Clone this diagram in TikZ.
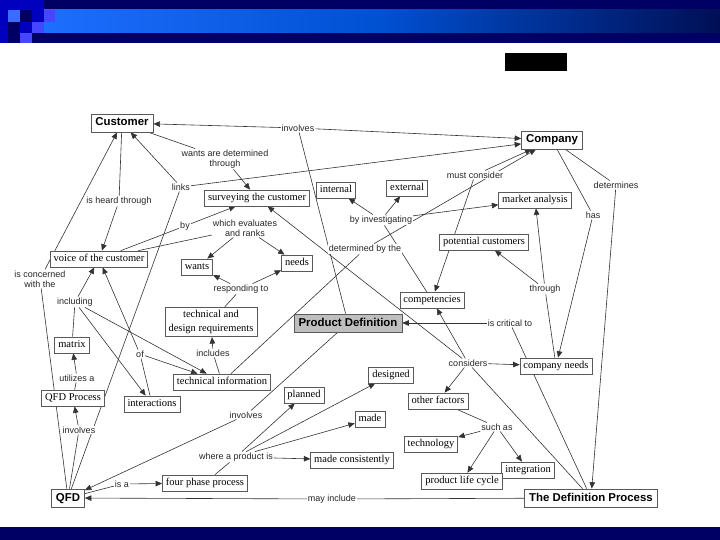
\documentclass[tikz,border=0pt]{standalone}
\usepackage{fontspec}
\setmainfont{Liberation Serif}
\setsansfont{Liberation Sans}
\usetikzlibrary{arrows.meta,backgrounds}
\definecolor{navy}{RGB}{0,0,100}
\definecolor{bandL}{RGB}{30,110,255}
\definecolor{bandM}{RGB}{0,80,210}
\definecolor{bandR}{RGB}{0,15,85}
\definecolor{sqA}{RGB}{58,108,255}
\definecolor{sqB}{RGB}{0,0,190}
\definecolor{sqC}{RGB}{70,70,255}
\begin{document}
\begin{tikzpicture}[x=1pt,y=-1pt,
  concept/.style={draw=black!65, line width=0.7pt, fill=white, font=\fontsize{10.5}{14}\selectfont, inner xsep=3.5pt, inner ysep=3pt, text height=7.5pt, text depth=2.5pt},
  concept2/.style={draw=black!65, line width=0.7pt, fill=white, font=\fontsize{10.5}{14}\selectfont, inner xsep=3.5pt, inner ysep=3pt, align=center},
  bigc/.style={concept, font=\sffamily\bfseries\fontsize{11.4}{13}\selectfont, text height=8.5pt, text depth=2.5pt, inner xsep=4.5pt, inner ysep=3.5pt},
  lp/.style={fill=white, font=\sffamily\fontsize{9}{10}\selectfont, inner sep=1pt, align=center, text=black!85},
  ln/.style={draw=black!80, line width=0.6pt},
  ar/.style={ln, -{Triangle[length=6.5pt,width=5.5pt]}}]
\useasboundingbox (0,0) rectangle (720,540);
% header and footer
\fill[navy] (0,0) rectangle (720,43);
\shade[left color=bandL, right color=bandR, middle color=bandM] (44,10) rectangle (720,33);
\fill[sqB] (0,0) rectangle (8,43);
\fill[sqB] (8,0) rectangle (44,10);
\fill[sqA] (8,10) rectangle (20,22);
\fill[sqC] (44,10) rectangle (55,22);
\fill[sqB] (32,10) rectangle (44,22);
\fill[sqC] (32,22) rectangle (44,33);
\fill[sqB] (20,22) rectangle (32,33);
\fill[sqC] (20,33) rectangle (32,43);
\fill[navy] (0,527) rectangle (720,540);
\fill[black] (505,53) rectangle (567,71);
% concepts
\node[bigc] (cust) at (122,123) {Customer};
\node[bigc] (comp) at (552,140) {Company};
\node[concept] (surv) at (257,198) {surveying the customer};
\node[concept] (int) at (336,190) {internal};
\node[concept] (ext) at (407,188) {external};
\node[concept] (mkt) at (535,200) {market analysis};
\node[concept] (pot) at (484,242) {potential customers};
\node[concept] (voc) at (99,259) {voice of the customer};
\node[concept] (wants) at (197,267) {wants};
\node[concept] (needs) at (297,263) {needs};
\node[concept2] (tdr) at (211,322) {technical and\\design requirements};
\node[bigc, fill=black!25] (pd) at (348,323) {Product Definition};
\node[concept] (compet) at (432,300) {competencies};
\node[concept] (cneeds) at (556,366) {company needs};
\node[concept] (matrix) at (72,345) {matrix};
\node[concept] (techinfo) at (222,382) {technical information};
\node[concept] (inter) at (152,404) {interactions};
\node[concept] (qfdp) at (73,398) {QFD Process};
\node[concept] (planned) at (304,395) {planned};
\node[concept] (designed) at (391,375) {designed};
\node[concept] (made) at (370,419) {made};
\node[concept] (madec) at (352,460) {made consistently};
\node[concept] (other) at (438,401) {other factors};
\node[concept] (tech) at (431,444) {technology};
\node[concept] (integ) at (528,470) {integration};
\node[concept] (plc) at (462,481) {product life cycle};
\node[bigc] (tdp) at (591,498) {The Definition Process};
\node[bigc] (qfd) at (68,498) {QFD};
\node[concept] (fpp) at (205,483) {four phase process};
% linking phrases
\node[lp] (linv1) at (298,128) {involves};
\node[lp] (lwants) at (225,159) {wants are determined\\through};
\node[lp] (llinks) at (181,187) {links};
\node[lp] (lheard) at (119,201) {is heard through};
\node[lp] (lby) at (185,226) {by};
\node[lp] (leval) at (245,228) {which evaluates\\and ranks};
\node[lp] (lconc) at (40,279) {is concerned\\with the};
\node[lp] (lincl) at (75,302) {including};
\node[lp] (lresp) at (241,289) {responding to};
\node[lp] (lof) at (140,354) {of};
\node[lp] (lincludes) at (213,353) {includes};
\node[lp] (lutil) at (77,378) {utilizes a};
\node[lp] (linv2) at (79,430) {involves};
\node[lp] (linv3) at (246,415) {involves};
\node[lp] (lwhere) at (236,457) {where a product is};
\node[lp] (lisa) at (122,484) {is a};
\node[lp] (lmay) at (332,499) {may include};
\node[lp] (linvest) at (381,220) {by investigating};
\node[lp] (ldet) at (365,249) {determined by the};
\node[lp] (lmust) at (475,175) {must consider};
\node[lp] (ldetermines) at (616,185) {determines};
\node[lp] (lhas) at (593,215) {has};
\node[lp] (lthrough) at (545,289) {through};
\node[lp] (lcrit) at (510,323) {is critical to};
\node[lp] (lcons) at (468,363) {considers};
\node[lp] (lsuch) at (497,427) {such as};
% connectors
\begin{pgfonlayer}{background}
\draw[ln] (pd) -- (linv1);
\draw[ar] (linv1) -- (cust);
\draw[ar] (linv1) -- (comp);
\draw[ln] (cust) -- (lwants);
\draw[ar] (lwants) -- (surv);
\draw[ln] (qfd) -- (llinks);
\draw[ar] (llinks) -- (cust);
\draw[ar] (llinks) -- (comp);
\draw[ln] (cust) -- (lheard);
\draw[ar] (lheard) -- (voc);
\draw[ln] (voc) -- (lby);
\draw[ar] (lby) -- (surv);
\draw[ln] (voc) -- (leval);
\draw[ar] (leval) -- (wants);
\draw[ar] (leval) -- (needs);
\draw[ln] (qfd) -- (lconc);
\draw[ar] (lconc) -- (cust);
\draw[ln] (matrix) -- (lincl);
\draw[ar] (lincl) -- (voc);
\draw[ar] (lincl) -- (inter);
\draw[ar] (lincl) -- (techinfo);
\draw[ln] (tdr) -- (lresp);
\draw[ar] (lresp) -- (wants);
\draw[ar] (lresp) -- (needs);
\draw[ln] (inter) -- (lof);
\draw[ar] (lof) -- (voc);
\draw[ar] (lof) -- (techinfo);
\draw[ln] (techinfo) -- (lincludes);
\draw[ar] (lincludes) -- (tdr);
\draw[ln] (qfdp) -- (lutil);
\draw[ar] (lutil) -- (matrix);
\draw[ln] (qfd) -- (linv2);
\draw[ar] (linv2) -- (qfdp);
\draw[ln] (pd) -- (linv3);
\draw[ar] (linv3) -- (qfd);
\draw[ln] (fpp) -- (lwhere);
\draw[ar] (lwhere) -- (planned);
\draw[ar] (lwhere) -- (designed);
\draw[ar] (lwhere) -- (made);
\draw[ar] (lwhere) -- (madec);
\draw[ln] (qfd) -- (lisa);
\draw[ar] (lisa) -- (fpp);
\draw[ln] (tdp) -- (lmay);
\draw[ar] (lmay) -- (qfd);
\draw[ln] (compet) -- (linvest);
\draw[ar] (linvest) -- (int);
\draw[ar] (linvest) -- (ext);
\draw[ar] (linvest) -- (mkt);
\draw[ln] (techinfo) -- (ldet);
\draw[ar] (ldet) -- (comp);
\draw[ar] (lmust) -- (comp);
\draw[ar] (lmust) -- (compet);
\draw[ln] (comp) -- (ldetermines);
\draw[ar] (ldetermines) -- (tdp);
\draw[ln] (comp) -- (lhas);
\draw[ar] (lhas) -- (cneeds);
\draw[ln] (cneeds) -- (lthrough);
\draw[ar] (lthrough) -- (mkt);
\draw[ar] (lthrough) -- (pot);
\draw[ln] (tdp) -- (lcrit);
\draw[ar] (lcrit) -- (pd);
\draw[ln] (tdp) -- (lcons);
\draw[ar] (lcons) -- (compet);
\draw[ar] (lcons) -- (surv);
\draw[ar] (lcons) -- (cneeds);
\draw[ar] (lcons) -- (other);
\draw[ln] (other) -- (lsuch);
\draw[ar] (lsuch) -- (tech);
\draw[ar] (lsuch) -- (plc);
\draw[ar] (lsuch) -- (integ);
\end{pgfonlayer}
\end{tikzpicture}
\end{document}
